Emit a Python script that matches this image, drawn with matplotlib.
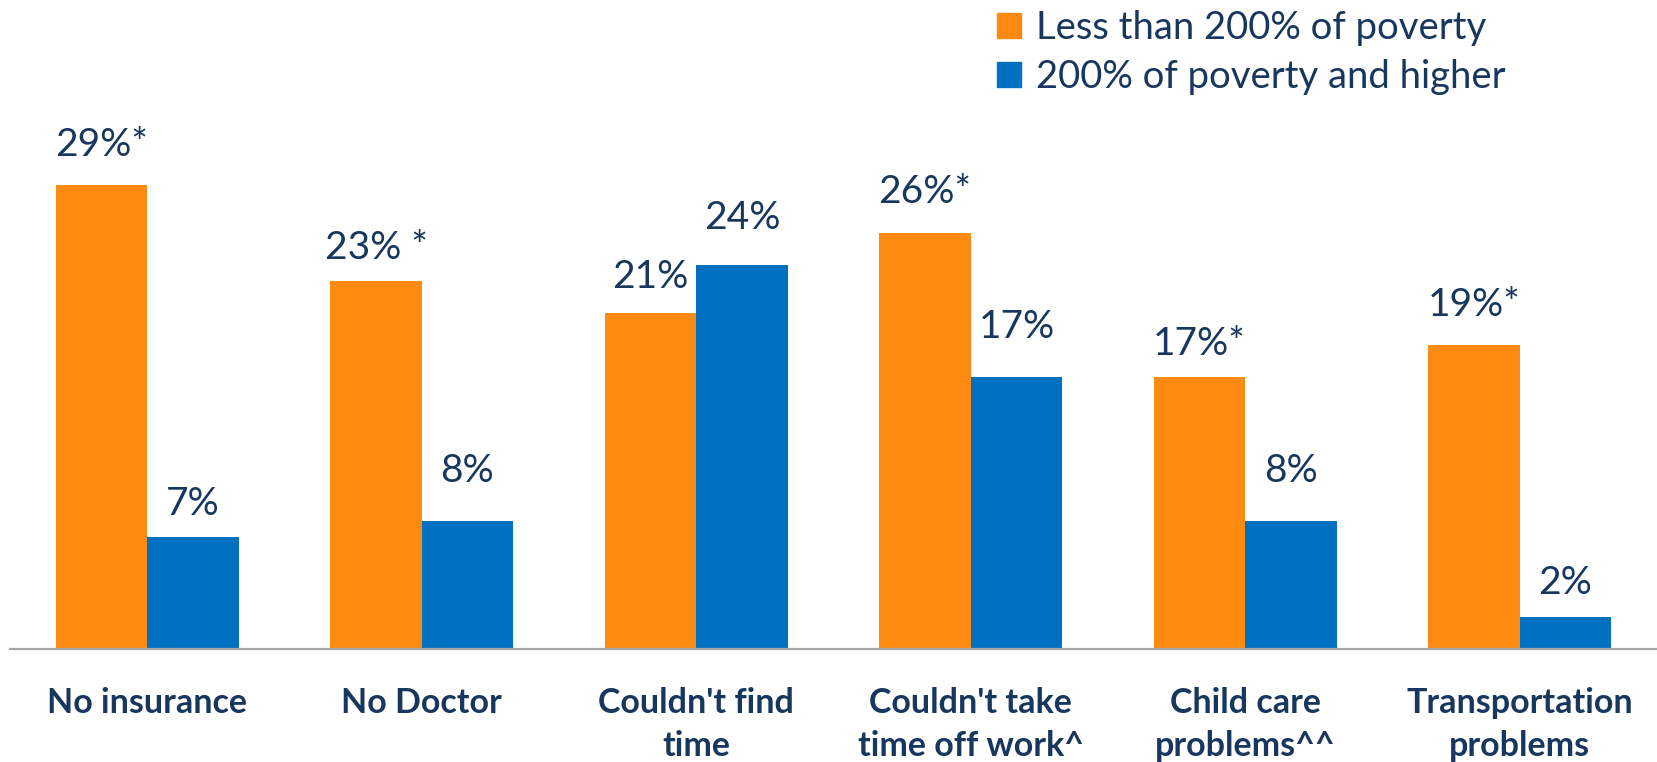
import matplotlib.pyplot as plt
import matplotlib.patches as mpatches
import numpy as np

plt.rcParams['font.family'] = ['Lato', 'DejaVu Sans']

categories = ["No insurance", "No Doctor", "Couldn't find\ntime",
              "Couldn't take\ntime off work^", "Child care\nproblems^^",
              "Transportation\nproblems"]
low_income = [29, 23, 21, 26, 17, 19]
higher_income = [7, 8, 24, 17, 8, 2]
low_labels = ["29%*", "23% *", "21%", "26%*", "17%*", "19%*"]
high_labels = ["7%", "8%", "24%", "17%", "8%", "2%"]
series_names = ["Less than 200% of poverty", "200% of poverty and higher"]

orange = '#FF8A12'
blue = '#0070C0'
navy = '#17375E'

# label gap above each bar, in points
low_pad = [16, 11, 13, 17, 11, 16]
high_pad = [11, 23, 21, 23, 23, 12]

fig = plt.figure(figsize=(16.57, 7.62), dpi=100)
ax = fig.add_axes([0.006, 0.148, 0.994, 0.63])

x = np.arange(len(categories))
w = 1 / 3
ax.bar(x - w / 2, low_income, w, color=orange)
ax.bar(x + w / 2, higher_income, w, color=blue)

for xi, v, lab, pad in zip(x, low_income, low_labels, low_pad):
    ax.annotate(lab, (xi - w / 2, v), xytext=(0, pad), textcoords='offset points',
                ha='center', va='bottom', fontsize=28, color=navy)
for xi, v, lab, pad in zip(x, higher_income, high_labels, high_pad):
    ax.annotate(lab, (xi + w / 2, v), xytext=(0, pad), textcoords='offset points',
                ha='center', va='bottom', fontsize=28, color=navy)

ax.set_xlim(-0.5, 5.5)
ax.set_ylim(0, 30)
ax.set_xticks(x)
ax.set_xticklabels(categories, fontsize=24.5, fontweight='bold', color=navy,
                   linespacing=1.42, va='top')
ax.tick_params(axis='x', length=0, pad=27)
ax.set_yticks([])
for s in ['left', 'right', 'top']:
    ax.spines[s].set_visible(False)
ax.spines['bottom'].set_color('#A6A6A6')
ax.spines['bottom'].set_linewidth(1.6)

handles = [mpatches.Patch(color=orange), mpatches.Patch(color=blue)]
fig.legend(handles, series_names, loc='upper left', bbox_to_anchor=(0.581, 1.032),
           frameon=False, fontsize=27.5, handlelength=0.62, handleheight=0.62,
           handletextpad=0.4, labelspacing=0.33, labelcolor=navy)

fig.savefig('out.png', dpi=100)
